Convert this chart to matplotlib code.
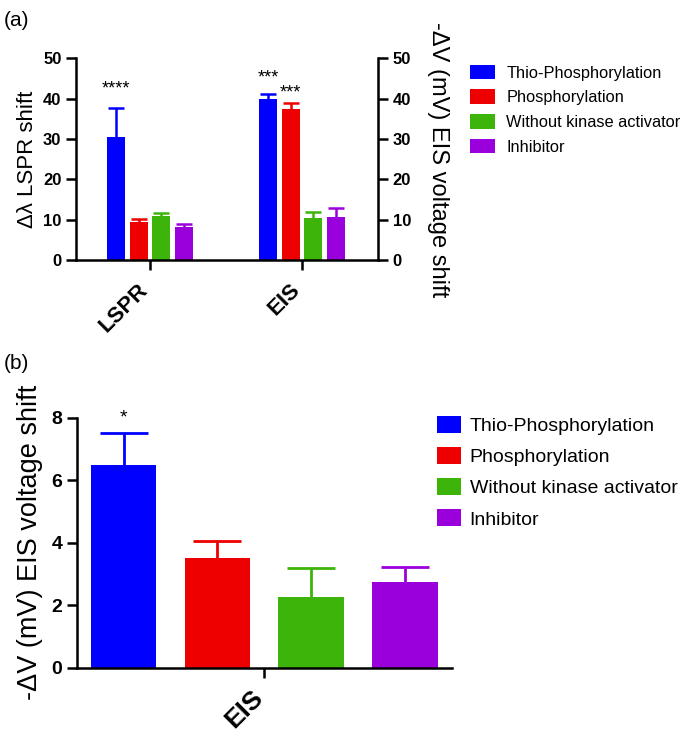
import numpy as np
import matplotlib
matplotlib.use("Agg")
import matplotlib.pyplot as plt
import matplotlib.transforms as mtransforms
from matplotlib.patches import Patch

plt.rcParams["font.family"] = ["Liberation Sans", "DejaVu Sans"]

# ── Data ──────────────────────────────────────────────────────────────────────
conditions = ["Thio-Phosphorylation", "Phosphorylation",
              "Without kinase activator", "Inhibitor"]
colors = ["#0000ff", "#ee0000", "#3cb40a", "#9a00dc"]

groups_a = ["LSPR", "EIS"]
means_a = np.array([[30.5, 39.8],    # thio
                    [9.5, 37.5],     # phospho
                    [11.0, 10.5],    # w/o activator
                    [8.2, 10.8]])    # inhibitor
errs_a = np.array([[7.2, 1.3],
                   [0.7, 1.3],
                   [0.7, 1.4],
                   [0.7, 2.2]])
stars_a = [("****", 0, 0, 42.3), ("***", 0, 1, 45.0), ("***", 1, 1, 41.5)]

groups_b = ["EIS"]
means_b = [6.5, 3.5, 2.25, 2.75]
errs_b = [1.0, 0.57, 0.95, 0.47]
stars_b = [("*", 0, 8.0)]

# ── Figure ────────────────────────────────────────────────────────────────────
fig = plt.figure(figsize=(6.85, 7.37), dpi=100)
lw = 1.8

def style_axis(ax):
    for s in ["top", "right"]:
        ax.spines[s].set_visible(False)
    ax.spines["left"].set_linewidth(lw)
    ax.spines["bottom"].set_linewidth(lw)
    ax.tick_params(axis="both", width=lw, length=7, direction="out")
    for lab in ax.get_yticklabels():
        lab.set_fontweight("bold")

def upper_err(ax, pos, mean, err, color, cap, lw_e):
    # only the upper whisker, no cap at the bar top
    eb = ax.errorbar(pos, mean, yerr=[np.zeros_like(err), err], fmt="none",
                     ecolor=color, elinewidth=lw_e, capsize=cap,
                     capthick=lw_e, zorder=1)
    eb[1][0].set_visible(False)

def shift_xlabels(ax, dx_px):
    off = mtransforms.ScaledTranslation(dx_px / 100, 0, fig.dpi_scale_trans)
    for lab in ax.get_xticklabels():
        lab.set_transform(lab.get_transform() + off)

# ── Panel (a) ─────────────────────────────────────────────────────────────────
ax1 = fig.add_axes([0.111, 0.647, 0.441, 0.274])
x = np.arange(len(groups_a))
width = 0.118
step = 0.149
for i in range(len(conditions)):
    pos = x + (i - 1.5) * step
    ax1.bar(pos, means_a[i], width, color=colors[i], zorder=2)
    upper_err(ax1, pos, means_a[i], errs_a[i], colors[i], 5.5, 1.8)
for txt, i, g, yv in stars_a:
    ax1.text(x[g] + (i - 1.5) * step, yv, txt, ha="center", va="center",
             fontsize=13)
ax1.set_xlim(-0.487, 1.5)
ax1.set_ylim(0, 50)
ax1.set_yticks(range(0, 51, 10))
ax1.set_xticks(x)
ax1.set_xticklabels(groups_a, rotation=45, ha="right", va="center",
                    rotation_mode="anchor", fontsize=16, fontweight="bold")
style_axis(ax1)
ax1.tick_params(axis="y", labelsize=12)
ax1.tick_params(axis="x", pad=12)
shift_xlabels(ax1, -5)
ax1.set_ylabel("Δλ LSPR shift", fontsize=16, labelpad=4)

ax1r = ax1.twinx()
ax1r.set_ylim(0, 50)
ax1r.set_yticks(range(0, 51, 10))
for s in ["top", "left", "bottom"]:
    ax1r.spines[s].set_visible(False)
ax1r.spines["right"].set_linewidth(lw)
ax1r.tick_params(axis="y", width=lw, length=7, labelsize=12)
for lab in ax1r.get_yticklabels():
    lab.set_fontweight("bold")
ax1r.set_ylabel("-ΔV (mV) EIS voltage shift", fontsize=17, rotation=270,
                labelpad=27)

handles = [Patch(facecolor=c, edgecolor="none") for c in colors]
ax1.legend(handles, conditions, loc="upper left", frameon=False,
           bbox_to_anchor=(0.676, 0.921), bbox_transform=fig.transFigure,
           fontsize=11.8, handlelength=1.52, handleheight=1.0,
           handletextpad=0.73, labelspacing=0.53, borderaxespad=0)

fig.text(0.005, 0.985, "(a)", fontsize=15, va="top")

# ── Panel (b) ─────────────────────────────────────────────────────────────────
ax2 = fig.add_axes([0.112, 0.094, 0.548, 0.339])
pos_b = np.arange(len(conditions)) - 1.5
ax2.bar(pos_b, means_b, 0.7, color=colors, zorder=2)
for i in range(len(conditions)):
    upper_err(ax2, [pos_b[i]], [means_b[i]], np.array([errs_b[i]]),
              colors[i], 17, 2)
for txt, i, yv in stars_b:
    ax2.text(pos_b[i], yv, txt, ha="center", va="center", fontsize=14)
ax2.set_xlim(-2.0, 2.0)
ax2.set_ylim(0, 8)
ax2.set_yticks(range(0, 9, 2))
ax2.set_xticks([0])
ax2.set_xticklabels(groups_b, rotation=45, ha="right", va="center",
                    rotation_mode="anchor", fontsize=19, fontweight="bold")
style_axis(ax2)
ax2.tick_params(axis="y", labelsize=14)
ax2.tick_params(axis="x", pad=12)
shift_xlabels(ax2, -5)
ax2.set_ylabel("-ΔV (mV) EIS voltage shift", fontsize=19.5, labelpad=6)

ax2.legend(handles, conditions, loc="upper left", frameon=False,
           bbox_to_anchor=(0.626, 0.446), bbox_transform=fig.transFigure,
           fontsize=14, handlelength=1.24, handleheight=0.95,
           handletextpad=0.46, labelspacing=0.62, borderaxespad=0)

fig.text(0.005, 0.52, "(b)", fontsize=15, va="top")

fig.savefig("out.png", dpi=100)
